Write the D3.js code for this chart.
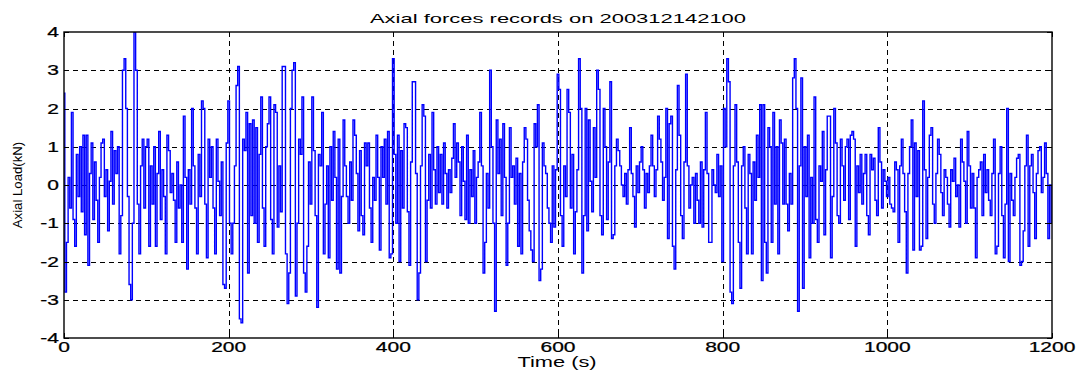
<!DOCTYPE html>
<html><head><meta charset="utf-8">
<script src="https://cdn.jsdelivr.net/npm/d3@7"></script>
<style>
body{margin:0;background:#fff}
text{font-family:"Liberation Sans",Arial,Helvetica,sans-serif;fill:#000}
</style>
</head><body>
<svg id="chart" width="1081" height="377"></svg>
<script>
const titleText = "Axial forces records on 200312142100";
const xLabelText = "Time (s)";
const yLabelText = "Axial Load(kN)";
const xTicks = [0, 200, 400, 600, 800, 1000, 1200];
const yTicks = [-4, -3, -2, -1, 0, 1, 2, 3, 4];
const timeStep = 2; // seconds between samples
const axialLoad = [
 2.4,-2.8,-1.5,0.2,-0.6,1.9,-0.9,-1.6,0.8,-0.3,
 1.0,-0.7,1.3,-1.3,1.3,-2.1,0.3,1.1,-0.9,0.6,
 -0.4,-1.5,0.2,1.1,1.2,-0.3,0.4,-1.2,0.1,1.4,
 -0.5,0.9,0.3,1.0,-1.8,-0.8,3.0,3.3,2.0,-0.3,
 -2.6,-3.0,-1.0,4.0,3.0,-0.5,-1.8,0.5,1.2,-0.6,
 1.0,1.2,-1.6,0.5,-0.5,1.0,-1.6,0.3,1.4,-0.9,
 0.4,-0.3,-1.8,1.3,0.9,-0.2,0.3,-0.4,-1.5,0.6,
 -0.6,0.0,-1.5,1.8,0.2,-2.2,0.4,-0.5,2.0,0.5,
 -0.6,-1.8,0.8,-0.3,2.2,2.0,-0.5,-1.9,1.2,0.2,
 1.0,-0.6,-1.8,1.2,0.1,-0.8,0.6,-2.6,-2.7,1.1,
 2.2,-1.0,-1.8,-1.0,0.5,2.6,3.1,-3.5,-3.6,1.2,
 0.9,1.9,-2.3,1.6,-0.8,1.7,-1.0,1.5,-1.5,0.8,
 2.3,-0.6,-1.6,1.0,1.6,2.3,-0.9,-1.8,2.1,1.9,
 -1.1,0.5,-0.7,3.1,3.1,-1.8,-3.1,-2.3,2.0,3.0,
 3.2,-2.9,-1.0,1.2,0.8,2.3,-2.3,-2.8,-1.6,0.6,
 -0.5,2.3,0.9,-0.8,-3.2,0.8,0.5,1.9,-1.8,-0.5,
 0.5,-1.9,1.0,-0.4,1.4,0.2,-2.2,1.2,-2.3,-0.3,
 1.7,0.5,-0.3,-1.0,0.6,-0.4,1.7,1.3,0.3,-1.2,
 0.9,-0.8,-1.3,1.1,0.5,1.1,-0.6,-1.5,0.2,-0.4,
 1.3,0.2,-1.7,1.0,0.2,1.2,-0.5,1.4,-1.9,-1.8,
 3.3,0.8,-1.0,1.3,-2.0,0.9,-0.6,1.6,1.5,-0.7,
 -2.1,0.6,2.7,2.7,0.3,-3.0,-2.3,0.5,2.1,1.8,
 -2.0,-0.4,0.8,-0.6,1.9,0.4,-0.5,1.0,-0.2,0.8,
 -0.5,1.1,0.3,-0.6,0.4,-0.2,0.7,1.6,0.2,1.1,
 0.6,-0.8,1.0,0.1,-0.9,1.3,-1.0,0.4,-0.3,0.9,
 -1.0,0.2,0.6,1.9,0.5,-2.3,-1.5,0.3,-0.6,3.0,
 1.0,-1.0,-3.3,1.7,0.3,1.2,-0.8,1.6,0.2,-2.1,
 -1.0,1.5,0.2,0.5,-0.5,0.7,-1.6,0.3,-1.8,0.6,
 1.5,1.2,-0.4,-1.2,-1.7,-2.0,1.6,1.0,2.1,-2.5,
 -2.2,1.1,0.5,0.3,-0.6,-1.0,-1.5,0.5,-1.1,0.4,
 2.9,2.5,-0.8,-1.6,0.5,-0.3,2.5,1.9,-0.6,0.8,
 -1.8,-0.7,0.4,3.3,2.0,-2.3,-0.8,2.0,-1.2,1.7,
 0.1,-0.7,1.5,0.2,3.0,2.5,-0.8,-1.3,2.0,1.0,
 -0.9,0.6,2.7,-1.4,-1.3,0.5,1.2,0.9,0.5,0.0,
 -0.3,0.3,-0.5,0.4,1.5,0.3,-0.3,-1.1,0.5,-0.2,
 0.6,1.0,0.4,-0.6,0.3,-0.2,0.5,1.3,0.5,-0.3,
 0.4,1.8,1.2,0.6,-0.4,0.2,2.0,-1.4,1.6,1.8,
 -1.6,-2.2,0.4,2.6,1.3,-0.8,-1.4,0.6,2.9,0.5,
 -0.6,0.0,0.2,-1.0,0.3,-0.4,-1.0,0.6,-1.1,0.4,
 1.9,0.3,-1.5,-1.5,0.4,0.0,-0.2,0.8,-0.3,0.5,
 -2.0,2.0,1.0,3.3,2.7,-2.8,-3.1,0.5,2.1,0.6,
 -1.5,-2.7,0.5,1.0,-0.6,-1.8,0.8,0.3,-1.8,0.6,
 -0.4,1.3,0.2,2.1,-2.5,2.1,-1.5,-2.3,1.5,1.0,
 -1.5,1.9,-0.5,1.0,-1.8,1.7,1.1,-0.5,1.2,-0.5,
 -1.2,0.3,-0.5,2.8,3.3,2.0,-3.3,0.5,2.8,-2.7,
 1.0,-0.3,1.3,-1.9,0.2,-1.0,2.3,-0.9,-1.5,0.5,
 0.1,1.4,-1.3,0.4,1.8,1.8,-1.9,-0.3,2.0,1.1,
 -0.8,-1.0,1.2,0.5,-0.4,1.0,1.2,-0.9,1.3,1.4,
 1.2,-1.6,0.5,-0.2,0.8,-0.5,0.3,0.8,-0.8,-1.3,
 0.8,0.4,0.7,-0.4,-0.8,1.5,0.6,-0.6,0.4,0.1,
 -0.3,0.2,-0.5,-0.6,-0.7,0.6,0.4,-1.5,0.5,1.2,
 0.3,-0.7,-2.3,0.3,1.0,1.7,-1.7,1.1,-0.3,0.9,
 -1.7,-1.6,2.2,0.4,-1.4,0.2,1.3,1.5,-0.5,-1.0,
 0.3,1.2,0.8,-0.2,-0.8,0.4,0.2,-0.5,-1.1,0.4,
 0.1,0.7,-0.3,0.0,-1.1,1.2,0.6,0.1,-1.0,1.4,
 0.5,-0.6,0.3,-0.6,-1.9,0.2,0.4,0.6,-0.8,0.8,
 -0.2,0.4,-0.4,-0.8,0.3,1.2,-1.8,-1.6,0.3,1.0,
 -0.8,-1.9,-0.5,2.0,-2.0,0.3,-0.4,-0.8,0.2,0.7,
 0.8,-2.1,-2.0,-1.2,0.5,1.3,-1.6,0.5,0.8,-0.2,
 -1.4,0.3,0.9,1.0,-0.2,0.2,1.1,0.3,-1.4,0.0,
 -1.0
];

const W = 1081, H = 377;
const plot = {left: 64, right: 1052, top: 32, bottom: 338};
const svg = d3.select("#chart");

const x = d3.scaleLinear().domain([0, 1200]).range([plot.left, plot.right]);
const y = d3.scaleLinear().domain([-4, 4]).range([plot.bottom, plot.top]);

// grid
const grid = svg.append("g").attr("stroke", "#000").attr("stroke-width", 1)
  .attr("stroke-dasharray", "5,4").attr("fill", "none");
grid.selectAll("line.gx").data(xTicks.filter(t => t > 0 && t < 1200)).join("line")
  .attr("x1", d => Math.round(x(d)) + 0.5).attr("x2", d => Math.round(x(d)) + 0.5)
  .attr("y1", plot.top).attr("y2", plot.bottom);
grid.selectAll("line.gy").data(yTicks.filter(t => t > -4 && t < 4)).join("line")
  .attr("y1", d => Math.round(y(d)) + 0.5).attr("y2", d => Math.round(y(d)) + 0.5)
  .attr("x1", plot.left).attr("x2", plot.right);

// data line
svg.append("clipPath").attr("id", "clip").append("rect")
  .attr("x", plot.left).attr("y", plot.top)
  .attr("width", plot.right - plot.left).attr("height", plot.bottom - plot.top);
const line = d3.line().curve(d3.curveStep).x((d, i) => x(i * timeStep)).y(d => y(d));
svg.append("path").datum(axialLoad)
  .attr("clip-path", "url(#clip)")
  .attr("d", line).attr("fill", "none")
  .attr("stroke", "#0000ff").attr("stroke-width", 1.4).attr("stroke-linejoin", "miter");

// axes (ticks inside, box)
const tickLen = 5;
const axG = svg.append("g").attr("stroke", "#000").attr("stroke-width", 1);
xTicks.forEach(t => {
  const px = Math.round(x(t)) + 0.5;
  axG.append("line").attr("x1", px).attr("x2", px).attr("y1", plot.bottom).attr("y2", plot.bottom - tickLen);
  axG.append("line").attr("x1", px).attr("x2", px).attr("y1", plot.top).attr("y2", plot.top + tickLen);
});
yTicks.forEach(t => {
  const py = Math.round(y(t)) + 0.5;
  axG.append("line").attr("x1", plot.left).attr("x2", plot.left + tickLen).attr("y1", py).attr("y2", py);
  axG.append("line").attr("x1", plot.right).attr("x2", plot.right - tickLen).attr("y1", py).attr("y2", py);
});
svg.append("rect").attr("x", plot.left).attr("y", plot.top)
  .attr("width", plot.right - plot.left).attr("height", plot.bottom - plot.top)
  .attr("fill", "none").attr("stroke", "#000").attr("stroke-width", 1.4);

// tick labels (horizontally stretched like the original)
const xLab = svg.append("g");
xLab.selectAll("g").data(xTicks).join("g")
  .attr("transform", d => `translate(${x(d)},352) scale(1.5,1)`)
  .append("text").attr("text-anchor", "middle").attr("font-size", 14)
  .attr("stroke", "#000").attr("stroke-width", 0.25).text(d => d);
const yLab = svg.append("g");
yLab.selectAll("g").data(yTicks).join("g")
  .attr("transform", d => `translate(59,${y(d) + 5}) scale(1.5,1)`)
  .append("text").attr("text-anchor", "end").attr("font-size", 14)
  .attr("stroke", "#000").attr("stroke-width", 0.25).text(d => d);

// title and axis labels
svg.append("g").attr("transform", "translate(558,23) scale(1.69,1)")
  .append("text").attr("text-anchor", "middle").attr("font-size", 13).text(titleText);
svg.append("g").attr("transform", "translate(557,367) scale(1.56,1)")
  .append("text").attr("text-anchor", "middle").attr("font-size", 14).text(xLabelText);
svg.append("g").attr("transform", "translate(22,185) rotate(-90) scale(1.2,1.15)")
  .append("text").attr("text-anchor", "middle").attr("font-size", 11).text(yLabelText);
</script>
</body></html>
